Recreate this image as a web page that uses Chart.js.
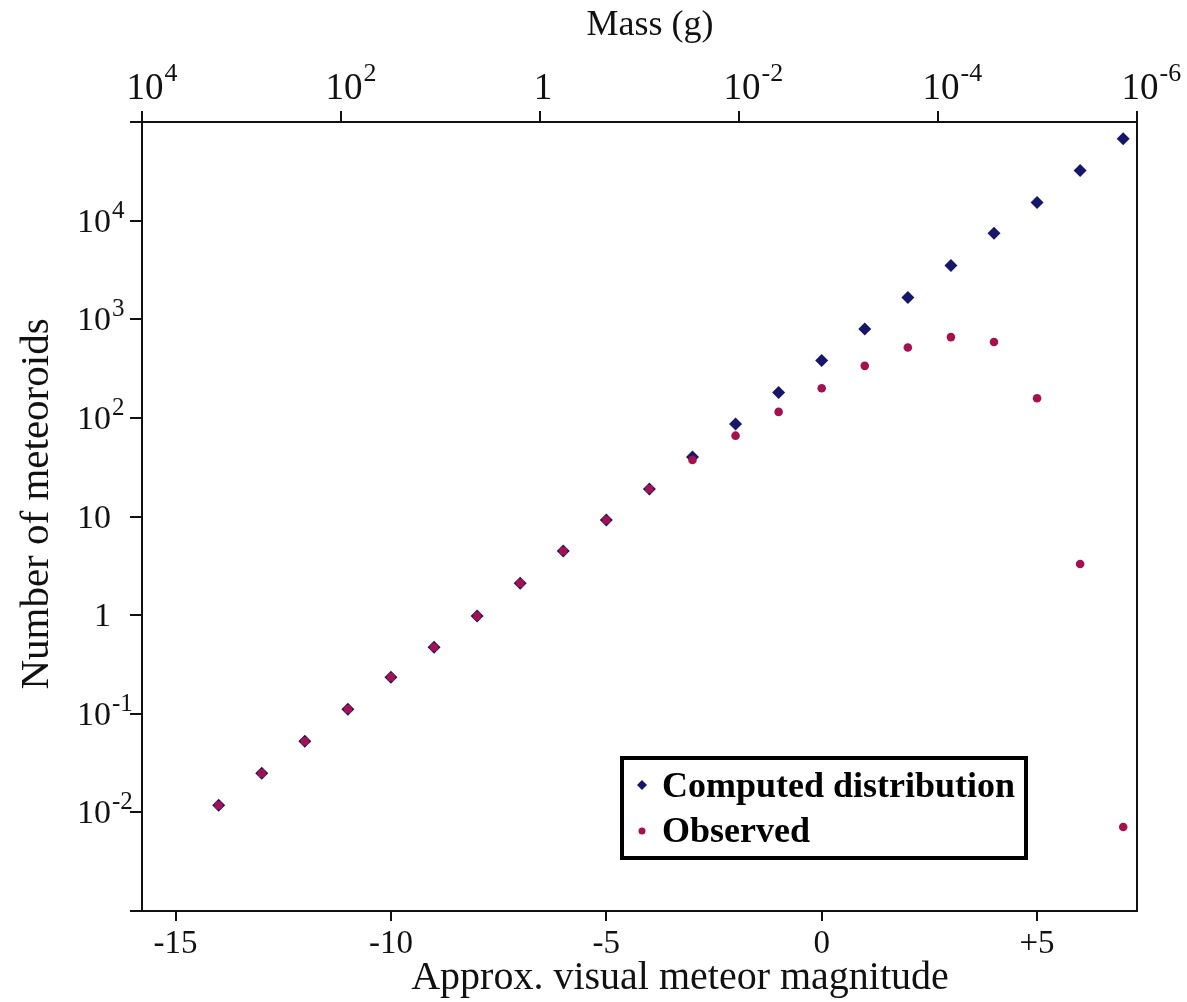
<!DOCTYPE html>
<html>
<head>
<meta charset="utf-8">
<script src="https://cdn.jsdelivr.net/npm/chart.js@4.4.1/dist/chart.umd.min.js"></script>
<style>
html,body{margin:0;padding:0;background:#fff;}
canvas{display:block;}
</style>
</head>
<body>
<canvas id="c" width="1187" height="1002"></canvas>
<script>
// ---- data ----
const magnitudes = [-14,-13,-12,-11,-10,-9,-8,-7,-6,-5,-4,-3,-2,-1,0,1,2,3,4,5,6,7];
const computedCounts = [0.0118,0.0249,0.0526,0.111,0.235,0.473,0.977,2.11,4.47,9.2,19.0,40.2,86.9,181,382,796,1663,3516,7430,15240,32200,67500];
const observedCounts = [0.0118,0.0249,0.0526,0.111,0.235,0.473,0.977,2.11,4.47,9.2,19.0,37.5,66,115,200,337,517,659,587,158,3.30,0.0071];
const seriesNames = ['Computed distribution','Observed'];
const magnitudeTicks = [-15,-10,-5,0,5];
const magnitudeTickLabels = ['-15','-10','-5','0','+5'];
const countExponents = [-3,-2,-1,0,1,2,3,4,5];
const labelledCountExponents = [-2,-1,0,1,2,3,4];
const massExponents = [4,2,0,-2,-4,-6];
const xTitle = 'Approx. visual meteor magnitude';
const yTitle = 'Number of meteoroids';
const massTitle = 'Mass (g)';

const SERIF = "'Liberation Serif','Times New Roman',serif";
const INK = '#111';
const NAVY = '#16166a';
const CRIMSON = '#a3124f';

function expLabel(e){ return e === 0 ? ['1',''] : (e === 1 ? ['10',''] : ['10', String(e)]); }

const overlay = {
  id: 'overlay',
  afterDraw(chart){
    const ctx = chart.ctx, ca = chart.chartArea;
    const y = chart.scales.y, mass = chart.scales.mass;
    ctx.save();
    // right frame line
    ctx.strokeStyle = INK; ctx.lineWidth = 2;
    ctx.beginPath(); ctx.moveTo(ca.right, ca.top); ctx.lineTo(ca.right, ca.bottom); ctx.stroke();
    ctx.fillStyle = INK;
    // left tick labels (powers of ten)
    labelledCountExponents.forEach(e => {
      const py = y.getPixelForValue(Math.pow(10, e));
      const [base, sup] = expLabel(e);
      ctx.font = `34px ${SERIF}`; ctx.textAlign = 'right'; ctx.textBaseline = 'alphabetic';
      ctx.fillText(base, 111, py + 11);
      if (sup) { ctx.font = `25px ${SERIF}`; ctx.textAlign = 'left'; ctx.fillText(sup, 112, py - 3); }
    });
    // top tick labels (mass)
    massExponents.forEach(e => {
      const px = mass.getPixelForValue(e);
      const [base, sup] = expLabel(e);
      ctx.font = `37px ${SERIF}`; ctx.textAlign = 'center'; ctx.textBaseline = 'alphabetic';
      ctx.fillText(base, px + 3, 99);
      if (sup) {
        const w = ctx.measureText(base).width;
        ctx.font = `26px ${SERIF}`; ctx.textAlign = 'left';
        ctx.fillText(sup, px + 3 + w / 2 + 1, 81);
      }
    });
    // axis titles
    ctx.textAlign = 'center'; ctx.textBaseline = 'alphabetic';
    ctx.font = `36px ${SERIF}`;
    ctx.fillText(massTitle, 650, 35);
    ctx.font = `40px ${SERIF}`;
    ctx.fillText(xTitle, 680, 989);
    ctx.save();
    ctx.translate(48, 504); ctx.rotate(-Math.PI / 2);
    ctx.font = `41px ${SERIF}`;
    ctx.fillText(yTitle, 0, 0);
    ctx.restore();
    // legend box
    ctx.strokeStyle = '#000'; ctx.lineWidth = 4;
    ctx.strokeRect(622, 758, 404, 100);
    // legend markers
    ctx.fillStyle = NAVY;
    ctx.beginPath();
    ctx.moveTo(642, 780); ctx.lineTo(647, 785); ctx.lineTo(642, 790); ctx.lineTo(637, 785); ctx.closePath(); ctx.fill();
    ctx.fillStyle = CRIMSON;
    ctx.beginPath(); ctx.arc(642, 831, 3.5, 0, Math.PI * 2); ctx.fill();
    // legend text
    ctx.fillStyle = '#000';
    ctx.font = `bold 36px ${SERIF}`; ctx.textAlign = 'left';
    ctx.fillText(seriesNames[0], 662, 797);
    ctx.fillText(seriesNames[1], 662, 842);
    ctx.restore();
  }
};

const tickGrid = (len) => ({ display: true, drawOnChartArea: false, drawTicks: true, tickLength: len, color: INK, lineWidth: 2 });
const axisBorder = { display: true, color: INK, width: 2 };

new Chart(document.getElementById('c'), {
  type: 'scatter',
  data: {
    datasets: [
      {
        label: seriesNames[1],
        data: magnitudes.map((m, i) => ({ x: m, y: observedCounts[i] })),
        pointStyle: 'circle', pointRadius: 4.3, pointHoverRadius: 4.3,
        backgroundColor: CRIMSON, borderColor: CRIMSON, borderWidth: 0,
        order: 0, xAxisID: 'x', yAxisID: 'y'
      },
      {
        label: seriesNames[0],
        data: magnitudes.map((m, i) => ({ x: m, y: computedCounts[i] })),
        pointStyle: 'rectRot', pointRadius: 6.5, pointHoverRadius: 6.5,
        backgroundColor: NAVY, borderColor: NAVY, borderWidth: 0,
        order: 1, xAxisID: 'x', yAxisID: 'y'
      }
    ]
  },
  options: {
    responsive: false,
    animation: false,
    devicePixelRatio: 1,
    layout: { padding: { left: 0, right: 50, top: 0, bottom: 0 } },
    plugins: { legend: { display: false }, tooltip: { enabled: false } },
    scales: {
      x: {
        type: 'linear', position: 'bottom', min: -15.78, max: 7.32,
        afterBuildTicks: s => { s.ticks = magnitudeTicks.map(v => ({ value: v })); },
        afterFit: s => { s.height = 91; },
        ticks: {
          autoSkip: false, maxRotation: 0, padding: 4, color: INK,
          font: { family: SERIF, size: 33 },
          callback: (v, i) => magnitudeTickLabels[i]
        },
        grid: tickGrid(10), border: axisBorder,
        title: { display: false, text: xTitle }
      },
      mass: {
        type: 'linear', position: 'top', min: -6, max: 4, reverse: true,
        afterBuildTicks: s => { s.ticks = massExponents.map(v => ({ value: v })); },
        afterFit: s => { s.height = 122; },
        ticks: { display: false },
        grid: tickGrid(11), border: axisBorder,
        title: { display: false, text: massTitle }
      },
      y: {
        type: 'logarithmic', position: 'left', min: 1e-3, max: 1e5,
        afterBuildTicks: s => { s.ticks = countExponents.map(e => ({ value: Math.pow(10, e) })); },
        afterFit: s => { s.width = 142; },
        ticks: { display: false },
        grid: tickGrid(12), border: axisBorder,
        title: { display: false, text: yTitle }
      }
    }
  },
  plugins: [overlay]
});
</script>
</body>
</html>
